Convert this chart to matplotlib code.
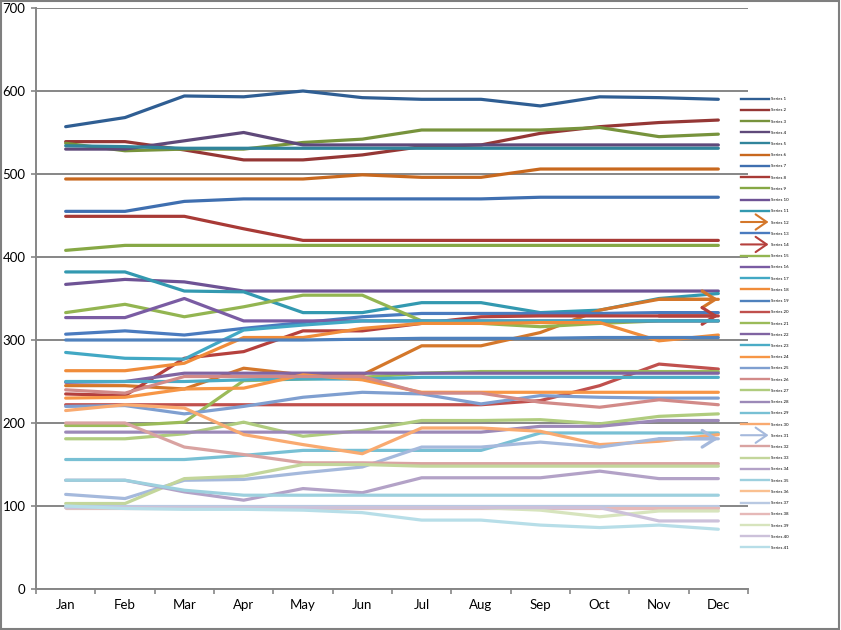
import matplotlib
matplotlib.use("Agg")
import matplotlib.pyplot as plt
from matplotlib.patches import FancyArrowPatch, Rectangle
from matplotlib.lines import Line2D
from matplotlib.legend_handler import HandlerPatch

plt.rcParams['font.family'] = ['Lato', 'DejaVu Sans']

months = ['Jan', 'Feb', 'Mar', 'Apr', 'May', 'Jun', 'Jul', 'Aug', 'Sep', 'Oct', 'Nov', 'Dec']

# values, one list per series (legend order)
s01 = [557, 568, 594, 593, 600, 592, 590, 590, 582, 593, 592, 590]
s02 = [539, 539, 529, 517, 517, 523, 533, 535, 549, 557, 562, 565]
s03 = [537, 528, 530, 530, 538, 542, 553, 553, 553, 556, 545, 548]
s04 = [530, 530, 540, 550, 535, 535, 535, 535, 535, 535, 535, 535]
s05 = [534, 533, 531, 531, 531, 531, 531, 531, 531, 531, 531, 531]
s06 = [494, 494, 494, 494, 494, 499, 496, 496, 506, 506, 506, 506]
s07 = [455, 455, 467, 470, 470, 470, 470, 470, 472, 472, 472, 472]
s08 = [449, 449, 449, 434, 420, 420, 420, 420, 420, 420, 420, 420]
s09 = [408, 414, 414, 414, 414, 414, 414, 414, 414, 414, 414, 414]
s10 = [367, 373, 370, 359, 359, 359, 359, 359, 359, 359, 359, 359]
s11 = [382, 382, 359, 358, 333, 333, 345, 345, 333, 336, 350, 356]
s12 = [245, 245, 241, 266, 258, 258, 293, 293, 309, 336, 349, 349]
s13 = [307, 311, 306, 314, 321, 328, 332, 332, 332, 332, 333, 333]
s14 = [235, 233, 278, 286, 311, 311, 320, 328, 329, 329, 329, 329]
s15 = [333, 343, 328, 340, 354, 354, 323, 320, 316, 320, 323, 323]
s16 = [327, 327, 350, 323, 323, 323, 323, 323, 323, 323, 323, 323]
s17 = [285, 278, 277, 312, 318, 323, 323, 323, 323, 323, 323, 323]
s18 = [263, 263, 272, 303, 303, 314, 320, 320, 321, 321, 299, 306]
s19 = [300, 300, 300, 300, 300, 301, 302, 302, 302, 303, 303, 303]
s20 = [222, 222, 222, 222, 222, 222, 222, 222, 227, 245, 271, 265]
s21 = [197, 197, 201, 251, 253, 255, 260, 262, 262, 262, 262, 262]
s22 = [249, 250, 260, 260, 260, 260, 260, 260, 260, 260, 260, 260]
s23 = [250, 250, 250, 252, 253, 253, 255, 255, 255, 255, 255, 255]
s24 = [230, 231, 241, 242, 258, 252, 237, 237, 237, 237, 237, 237]
s25 = [220, 221, 211, 220, 231, 237, 235, 223, 233, 231, 230, 230]
s26 = [240, 236, 256, 256, 256, 256, 236, 236, 225, 219, 228, 222]
s27 = [181, 181, 187, 201, 184, 191, 203, 203, 204, 199, 208, 211]
s28 = [189, 189, 189, 189, 189, 189, 189, 189, 196, 196, 203, 203]
s29 = [156, 156, 156, 161, 167, 167, 167, 167, 188, 188, 188, 188]
s30 = [215, 222, 218, 186, 174, 163, 194, 194, 190, 174, 178, 186]
s31 = [114, 109, 131, 132, 140, 147, 171, 171, 177, 171, 181, 181]
s32 = [200, 200, 171, 162, 152, 152, 151, 151, 151, 151, 151, 151]
s33 = [103, 103, 133, 136, 150, 150, 148, 148, 148, 148, 148, 148]
s34 = [131, 131, 117, 107, 121, 116, 134, 134, 134, 142, 133, 133]
s35 = [131, 131, 119, 113, 113, 113, 113, 113, 113, 113, 113, 113]
s36 = [99, 99, 99, 99, 99, 99, 99, 99, 99, 99, 99, 99]
s37 = [100, 100, 100, 100, 100, 100, 100, 100, 100, 100, 100, 100]
s38 = [97, 97, 97, 97, 97, 97, 97, 97, 97, 97, 97, 97]
s39 = [98, 98, 98, 98, 98, 98, 98, 98, 95, 87, 94, 94]
s40 = [98, 98, 98, 98, 98, 98, 98, 98, 98, 98, 82, 82]
s41 = [100, 97, 96, 96, 95, 92, 83, 83, 77, 74, 77, 72]

series = [s01, s02, s03, s04, s05, s06, s07, s08, s09, s10, s11, s12, s13, s14,
          s15, s16, s17, s18, s19, s20, s21, s22, s23, s24, s25, s26, s27, s28,
          s29, s30, s31, s32, s33, s34, s35, s36, s37, s38, s39, s40, s41]
labels = ['Series %d' % (i + 1) for i in range(len(series))]
arrow_series = [12, 14, 31]

colors = ['#2F5E93', '#953735', '#77933C', '#5F497A', '#31849B', '#C8681E',
          '#3F6FB0', '#A83A36', '#86A845', '#6E5395', '#3399B0', '#D4772A',
          '#4A7BBF', '#B5403D', '#93B551', '#7A5CA3', '#42A8C4', '#F08C3A',
          '#4F81BD', '#C0504D', '#9BBB59', '#8064A2', '#4BACC6', '#F79646',
          '#7F9FD0', '#D28A88', '#B0CC7E', '#9C89B8', '#78C0D4', '#F9AA70',
          '#A5B9DC', '#D9A3A1', '#C3D69B', '#B3A2C7', '#9DD0DE', '#FAC090',
          '#B9C9E2', '#E6B9B8', '#D7E4BD', '#CCC1DA', '#B7DEE8']

grey = '#868686'

fig = plt.figure(figsize=(8.41, 6.30), dpi=100)
ax = fig.add_axes([36 / 841, 41 / 630, (748 - 36) / 841, (622 - 41) / 630])

x = list(range(len(months)))
handles = []
for i, vals in enumerate(series):
    ax.plot(x, vals, color=colors[i], lw=2.3, solid_capstyle='round',
            solid_joinstyle='round', zorder=3)
    if (i + 1) in arrow_series:
        ax.annotate('', xy=(x[-1], vals[-1]), xytext=(x[-2], vals[-2]),
                    arrowprops=dict(arrowstyle='->,head_length=0.95,head_width=0.6',
                                    color=colors[i], lw=2.3, shrinkA=0, shrinkB=0,
                                    mutation_scale=10), zorder=3)
        handles.append(FancyArrowPatch((0, 0), (1, 0), color=colors[i], lw=1.5,
                                       arrowstyle='->'))
    else:
        handles.append(Line2D([], [], color=colors[i], lw=1.7))


def make_arrow(legend, orig_handle, xdescent, ydescent, width, height, fontsize):
    return FancyArrowPatch((-xdescent, height / 2), (width - xdescent, height / 2),
                           arrowstyle='->,head_length=0.8,head_width=0.55',
                           mutation_scale=10, lw=1.5, shrinkA=0, shrinkB=0)


ax.set_xlim(-0.5, 11.5)
ax.set_ylim(0, 700)
ax.set_yticks(range(0, 701, 100))
ax.set_xticks(x)
ax.set_xticklabels(months)
ax.set_xticks([v - 0.5 for v in range(13)], minor=True)
ax.tick_params(axis='x', which='major', length=0, pad=7.5, labelsize=9.5)
ax.tick_params(axis='x', which='minor', length=3.6, width=1.2, color=grey,
               direction='out')
ax.tick_params(axis='y', length=3.6, width=1.2, color=grey, pad=4, labelsize=9.5)
ax.grid(axis='y', color=grey, lw=1.4, zorder=0)
ax.set_axisbelow(True)
for side in ['top', 'right']:
    ax.spines[side].set_visible(False)
for side in ['left', 'bottom']:
    ax.spines[side].set_color(grey)
    ax.spines[side].set_linewidth(1.4)

fig.legend(handles, labels, loc='upper left', bbox_to_anchor=(741 / 841, 1 - 97 / 630),
           frameon=False, fontsize=3.2, handlelength=6.2, handletextpad=0.5,
           labelspacing=1.6, borderpad=0, borderaxespad=0,
           handler_map={FancyArrowPatch: HandlerPatch(patch_func=make_arrow)})

fig.add_artist(Rectangle((0.001, 0.002), 0.997, 0.996, transform=fig.transFigure,
                         fill=False, ec='#7F7F7F', lw=1.5))

fig.savefig('out.png', dpi=100)
